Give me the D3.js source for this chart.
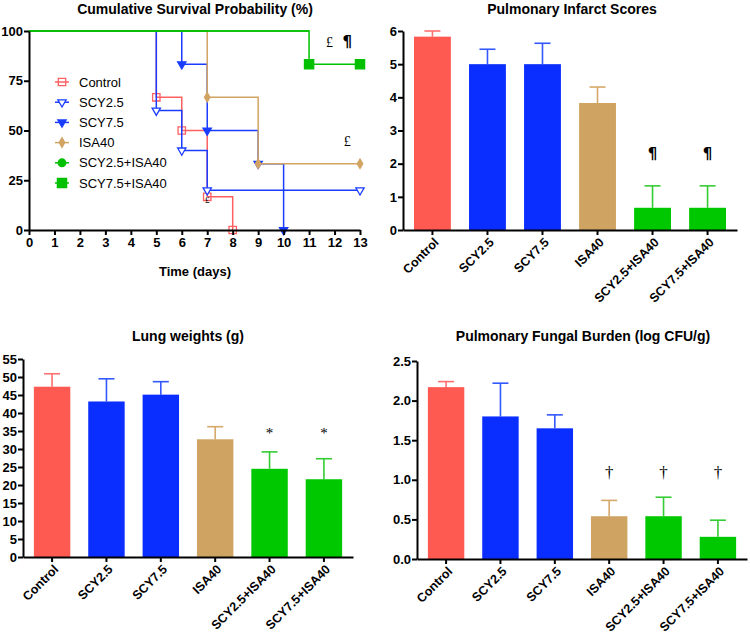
<!DOCTYPE html>
<html lang="en">
<head>
<meta charset="utf-8">
<title>Survival and lung outcomes</title>
<script src="https://d3js.org/d3.v7.min.js"></script>
<style>
  body { margin: 0; background: #fff; }
  svg text { font-family: "Liberation Sans", Arial, sans-serif; fill: #000; }
  .axis path, .axis line { stroke: #000; stroke-width: 2px; }
  .axis text { font-weight: bold; font-size: 13px; }
  .axis text.cat { font-size: 12.5px; }
  .title { font-weight: bold; font-size: 14px; text-anchor: middle; }
  .legend text { font-size: 13px; }
  svg text.note { font-family: "Liberation Serif", serif; font-size: 16px; text-anchor: middle; }
  svg text.pilcrow { font-family: "DejaVu Sans", sans-serif; font-weight: bold; }
</style>
</head>
<body>
<div id="chart"></div>
<script>
// groups shared by every panel
var groups = ["Control", "SCY2.5", "SCY7.5", "ISA40", "SCY2.5+ISA40", "SCY7.5+ISA40"];
var colors = ["#FF5A52", "#0A2EFF", "#0A2EFF", "#CFA462", "#00C800", "#00C800"];
var errColors = ["#FF7070", "#3358FF", "#3358FF", "#D6A86A", "#33CC33", "#33CC33"];

// survival curves (day, % surviving)
var controlDays = [0, 5, 6, 7, 8],       controlSurv = [100, 66.7, 50, 16.7, 0];
var scy25Days   = [0, 5, 6, 7, 13],      scy25Surv   = [100, 60, 40, 20, 20];
var scy75Days   = [0, 6, 7, 9, 10],      scy75Surv   = [100, 83.3, 50, 33.3, 0];
var isaDays     = [0, 7, 9, 13],         isaSurv     = [100, 66.7, 33.3, 33.3];
var combo25Days = [0, 11],               combo25Surv = [100, 100];
var combo75Days = [0, 11, 13],           combo75Surv = [100, 83.3, 83.3];
var survTicksX = d3.range(0, 14);
var survTicksY = [0, 25, 50, 75, 100];

// bar panels: mean and SEM
var infarctMean = [5.83, 5.0, 5.0, 3.83, 0.67, 0.67];
var infarctErr  = [0.17, 0.45, 0.63, 0.48, 0.66, 0.66];
var infarctMarks = ["", "", "", "", "¶", "¶"];
var infarctTicks = [0, 1, 2, 3, 4, 5, 6];

var lungMean = [47.3, 43.2, 45.1, 32.7, 24.5, 21.6];
var lungErr  = [3.6, 6.3, 3.6, 3.5, 4.7, 5.7];
var lungMarks = ["", "", "", "", "*", "*"];
var lungTicks = d3.range(0, 60, 5);

var fungalMean = [2.17, 1.80, 1.65, 0.54, 0.54, 0.28];
var fungalErr  = [0.07, 0.42, 0.17, 0.20, 0.24, 0.21];
var fungalMarks = ["", "", "", "†", "†", "†"];
var fungalTicks = [0, 0.5, 1.0, 1.5, 2.0, 2.5];

var svg = d3.select("#chart").append("svg")
    .attr("width", 750)
    .attr("height", 637);

// ---------- survival panel ----------
var xS = d3.scaleLinear().domain([0, 13]).range([29, 360]);
var yS = d3.scaleLinear().domain([0, 100]).range([230, 31]);

svg.append("text").attr("class", "title").attr("x", 195).attr("y", 14)
   .text("Cumulative Survival Probability (%)");

var series = [
  { name: "Control",      days: controlDays, surv: controlSurv, color: "#FF6060", shape: "square", fill: "none" },
  { name: "SCY2.5",       days: scy25Days,   surv: scy25Surv,   color: "#1A3CFF", shape: "tri",    fill: "#fff" },
  { name: "SCY7.5",       days: scy75Days,   surv: scy75Surv,   color: "#1A3CFF", shape: "tri",    fill: "#1A3CFF" },
  { name: "ISA40",        days: isaDays,     surv: isaSurv,     color: "#D2A462", shape: "diamond",fill: "#D2A462" },
  { name: "SCY2.5+ISA40", days: combo25Days, surv: combo25Surv, color: "#00C000", shape: "circle", fill: "#00C000" },
  { name: "SCY7.5+ISA40", days: combo75Days, surv: combo75Surv, color: "#00C000", shape: "bigsquare", fill: "#00C000" }
];

function symbolFor(shape) {
  if (shape === "square") return d3.symbol().type(d3.symbolSquare).size(55)();
  if (shape === "bigsquare") return d3.symbol().type(d3.symbolSquare).size(85)();
  if (shape === "tri") return d3.symbol().type(d3.symbolTriangle).size(30)();
  if (shape === "diamond") return d3.symbol().type(d3.symbolDiamond).size(26)();
  return d3.symbol().type(d3.symbolCircle).size(45)();
}
function rotFor(shape) { return shape === "tri" ? " rotate(180)" : ""; }

var stepLine = d3.line()
    .x(function(d) { return xS(d[0]); })
    .y(function(d) { return yS(d[1]); })
    .curve(d3.curveStepAfter);

var curves = svg.append("g");
series.forEach(function(s) {
  var pts = s.days.map(function(t, i) { return [t, s.surv[i]]; });
  curves.append("path")
      .attr("d", stepLine(pts))
      .attr("fill", "none")
      .attr("stroke", s.color)
      .attr("stroke-width", 1.5);
  // markers where the curve drops, or at end of follow-up
  var marks = pts.filter(function(p, i) {
    return i > 0 && (p[1] < pts[i - 1][1] || p[0] === 13);
  });
  curves.selectAll(null).data(marks).enter().append("path")
      .attr("d", symbolFor(s.shape))
      .attr("transform", function(d) { return "translate(" + xS(d[0]) + "," + yS(d[1]) + ")" + rotFor(s.shape); })
      .attr("fill", s.fill)
      .attr("stroke", s.color)
      .attr("stroke-width", 1.3);
});

svg.append("g").attr("class", "axis")
   .attr("transform", "translate(0," + yS(0) + ")")
   .call(d3.axisBottom(xS).tickValues(survTicksX).tickSize(5).tickSizeOuter(0));
svg.append("g").attr("class", "axis")
   .attr("transform", "translate(" + xS(0) + ",0)")
   .call(d3.axisLeft(yS).tickValues(survTicksY).tickSize(5).tickSizeOuter(0))
   .selectAll("text").attr("x", -6);

svg.append("text").attr("x", 195).attr("y", 276)
   .style("font-weight", "bold").style("font-size", "13px").style("text-anchor", "middle")
   .text("Time (days)");

svg.append("text").attr("class", "note").attr("x", xS(11.8)).attr("y", yS(92)).style("font-size", "14px").text("£");
svg.append("text").attr("class", "note pilcrow").attr("x", xS(12.5)).attr("y", yS(92)).style("font-size", "15px").text("¶");
svg.append("text").attr("class", "note").attr("x", xS(12.5)).attr("y", yS(42)).style("font-size", "14px").text("£");
svg.append("text").attr("class", "note").attr("x", xS(7)).attr("y", yS(13.5)).style("font-size", "9px").text("£");

var legend = svg.append("g").attr("class", "legend");
series.forEach(function(s, i) {
  var ly = 82 + i * 20.2;
  legend.append("line").attr("x1", 55).attr("x2", 69).attr("y1", ly).attr("y2", ly)
        .attr("stroke", s.color).attr("stroke-width", 1.5);
  legend.append("path").attr("d", symbolFor(s.shape))
        .attr("transform", "translate(62," + ly + ")" + rotFor(s.shape))
        .attr("fill", s.fill).attr("stroke", s.color).attr("stroke-width", 1.3);
  legend.append("text").attr("x", 79).attr("y", ly).attr("dy", "0.35em").text(s.name);
});

// ---------- bar panels ----------
function drawBars(cfg) {
  var x = d3.scaleBand().domain(groups).range([cfg.x0, cfg.x1])
      .paddingInner(0.33).paddingOuter(0.2);
  var y = d3.scaleLinear().domain([0, cfg.max]).range([cfg.yBot, cfg.yTop]);
  var g = svg.append("g");

  g.append("text").attr("class", "title").attr("x", cfg.titleX).attr("y", cfg.titleY).text(cfg.title);

  // error bars (upper only)
  groups.forEach(function(name, i) {
    var cx = x(name) + x.bandwidth() / 2;
    g.append("line").attr("x1", cx).attr("x2", cx)
     .attr("y1", y(cfg.means[i])).attr("y2", y(cfg.means[i] + cfg.errs[i]))
     .attr("stroke", errColors[i]).attr("stroke-width", 1.6);
    g.append("line").attr("x1", cx - 8).attr("x2", cx + 8)
     .attr("y1", y(cfg.means[i] + cfg.errs[i])).attr("y2", y(cfg.means[i] + cfg.errs[i]))
     .attr("stroke", errColors[i]).attr("stroke-width", 1.6);
  });

  g.selectAll(".bar").data(cfg.means).enter().append("rect")
   .attr("class", "bar")
   .attr("x", function(d, i) { return x(groups[i]); })
   .attr("y", function(d) { return y(d); })
   .attr("width", x.bandwidth())
   .attr("height", function(d) { return y(0) - y(d); })
   .attr("fill", function(d, i) { return colors[i]; });

  g.selectAll(".mark").data(cfg.marks).enter().append("text")
   .attr("class", cfg.markClass)
   .attr("x", function(d, i) { return x(groups[i]) + x.bandwidth() / 2; })
   .attr("y", y(cfg.markAt))
   .attr("dy", "0.35em")
   .style("font-size", cfg.markSize)
   .text(function(d) { return d; });

  var xa = g.append("g").attr("class", "axis")
   .attr("transform", "translate(0," + y(0) + ")")
   .call(d3.axisBottom(x).tickSize(5).tickSizeOuter(0));
  xa.selectAll("text")
   .attr("class", "cat")
   .attr("y", 0).attr("x", 0).attr("dy", "0.35em")
   .attr("transform", "translate(4,10) rotate(-45)")
   .style("text-anchor", "end");

  g.append("g").attr("class", "axis")
   .attr("transform", "translate(" + cfg.x0 + ",0)")
   .call(d3.axisLeft(y).tickValues(cfg.ticks).tickFormat(cfg.fmt).tickSize(5).tickSizeOuter(0))
   .selectAll("text").attr("x", -6);
}

drawBars({ x0: 403, x1: 737, yTop: 31, yBot: 230, max: 6, ticks: infarctTicks, fmt: d3.format("d"),
           means: infarctMean, errs: infarctErr, marks: infarctMarks, markAt: 2.3, markSize: "15px", markClass: "note pilcrow",
           title: "Pulmonary Infarct Scores", titleX: 572, titleY: 14 });
drawBars({ x0: 23, x1: 353, yTop: 359, yBot: 557, max: 55, ticks: lungTicks, fmt: d3.format("d"),
           means: lungMean, errs: lungErr, marks: lungMarks, markAt: 34.5, markSize: "15px", markClass: "note",
           title: "Lung weights (g)", titleX: 188, titleY: 341 });
drawBars({ x0: 417, x1: 747, yTop: 361, yBot: 559, max: 2.5, ticks: fungalTicks, fmt: d3.format(".1f"),
           means: fungalMean, errs: fungalErr, marks: fungalMarks, markAt: 1.1, markSize: "17px", markClass: "note",
           title: "Pulmonary Fungal Burden (log CFU/g)", titleX: 583, titleY: 341 });
</script>
</body>
</html>
